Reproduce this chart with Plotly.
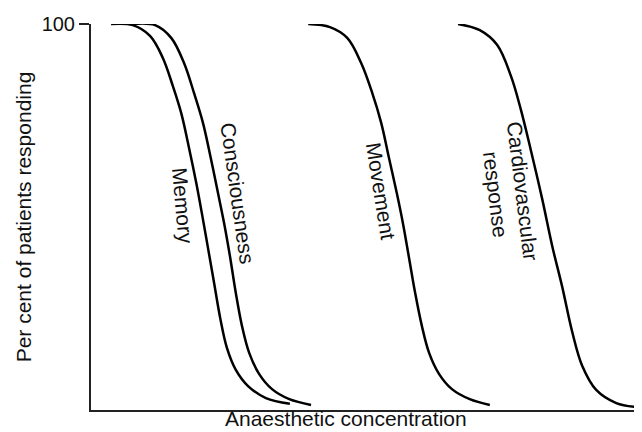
import plotly.graph_objects as go

# Curves: x = anaesthetic concentration (arbitrary units 0-100), y = % responding
memory_x = [3.6, 7.5, 10.6, 12.9, 14.7, 16.2, 17.6, 18.9, 19.9, 21.0, 22.1, 23.2, 24.4, 26.0, 28.2, 31.4, 35.7]
memory_y = [100, 99.7, 96.9, 91.2, 83.9, 76.9, 67.9, 58.8, 51.0, 42.0, 32.9, 23.8, 16.1, 10.4, 6.2, 3.1, 1.6]

conscious_x = [7.5, 11.5, 14.4, 16.7, 18.5, 20.1, 21.5, 22.8, 23.9, 25.0, 26.0, 27.1, 28.4, 30.2, 32.5, 35.6, 39.5]
conscious_y = [100, 99.7, 96.4, 89.9, 82.1, 74.4, 65.3, 56.2, 48.4, 39.4, 30.3, 21.8, 14.8, 9.3, 5.4, 2.8, 1.3]

movement_x = [39.0, 42.9, 46.0, 48.5, 50.5, 52.1, 53.5, 54.9, 56.0, 57.1, 58.2, 59.4, 60.7, 62.5, 64.8, 68.0, 71.6]
movement_y = [100, 99.2, 96.4, 89.9, 82.1, 74.4, 65.3, 56.2, 48.4, 39.4, 30.3, 21.8, 14.8, 9.3, 5.4, 2.8, 1.3]

cardio_x = [65.9, 69.8, 72.9, 75.4, 77.2, 79.0, 81.0, 82.8, 84.6, 86.4, 88.2, 90.7, 94.3, 97.7]
cardio_y = [100, 98.4, 94.6, 86.5, 77.7, 67.1, 54.7, 42.5, 31.9, 20.2, 11.4, 5.2, 1.8, 0.8]

labels = ["Memory", "Consciousness", "Movement", "Cardiovascular<br>response"]
label_x = [16.5, 26.4, 52.1, 75.1]
label_y = [53.0, 56.2, 56.7, 56.2]
label_angle = [85, 82, 81, 83]

y_ticks = [100]
y_ticktext = ["100"]
x_title = "Anaesthetic concentration"
y_title = "Per cent of patients responding"

FONT = "Liberation Sans, Arial, Helvetica, sans-serif"

fig = go.Figure()
for xs, ys in [(memory_x, memory_y), (conscious_x, conscious_y),
               (movement_x, movement_y), (cardio_x, cardio_y)]:
    fig.add_trace(go.Scatter(x=xs, y=ys, mode="lines",
                             line=dict(color="black", width=2.5, shape="spline", smoothing=1.0),
                             showlegend=False, hoverinfo="skip"))

for t, x, y, a in zip(labels, label_x, label_y, label_angle):
    fig.add_annotation(x=x, y=y, xref="x", yref="y", text=t, showarrow=False,
                       textangle=a, font=dict(family=FONT, size=21, color="#111"))

# x-axis title (placed slightly left of the axis centre, as in the original)
fig.add_annotation(x=0.457, y=-0.021, xref="paper", yref="paper", text=x_title,
                   showarrow=False, xanchor="center", yanchor="middle",
                   font=dict(family=FONT, size=21, color="#111"))

fig.update_layout(
    width=642, height=432,
    margin=dict(l=83, r=2, t=16, b=30),
    paper_bgcolor="white", plot_bgcolor="white",
    font=dict(family=FONT, size=21, color="#111"),
    showlegend=False,
)
fig.update_xaxes(range=[0, 100], showline=True, linecolor="#222", linewidth=2,
                 showgrid=False, zeroline=False, showticklabels=False, ticks="")
fig.update_yaxes(range=[0, 100], showline=True, linecolor="#222", linewidth=2,
                 showgrid=False, zeroline=False, tickvals=y_ticks, ticktext=y_ticktext,
                 ticks="outside", ticklen=10, tickwidth=1.5, tickcolor="#222",
                 tickfont=dict(size=20),
                 title=dict(text=y_title, font=dict(size=21), standoff=4))

fig.write_html("out.html")
